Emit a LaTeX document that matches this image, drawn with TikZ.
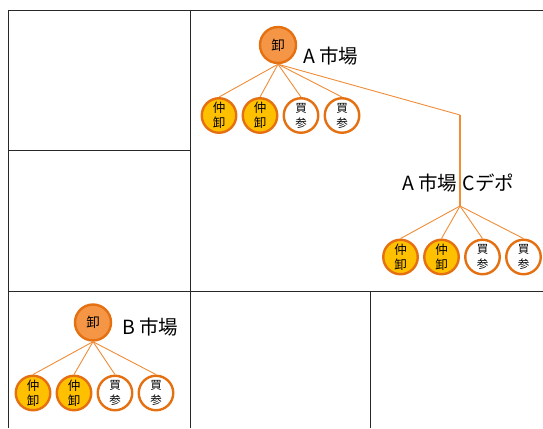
\documentclass[tikz,border=0pt]{standalone}
\usepackage{fontspec}
\setmainfont{Noto Sans CJK JP}
\definecolor{orfill}{RGB}{245,150,70}
\definecolor{ordraw}{RGB}{228,112,18}
\definecolor{goldfill}{RGB}{255,192,0}
\definecolor{orline}{RGB}{240,140,55}
\definecolor{gridc}{RGB}{40,40,40}
\tikzset{
  gridline/.style={draw=gridc,line width=0.9pt},
  rootnode/.style={circle,draw=ordraw,fill=orfill,line width=2.4pt,minimum size=36pt,inner sep=0pt,font=\fontsize{13.5}{14}\selectfont},
  nakanode/.style={circle,draw=ordraw,fill=goldfill,line width=2.4pt,minimum size=34.5pt,inner sep=0pt,align=center,font=\fontsize{12.5}{15}\selectfont},
  kainode/.style={circle,draw=ordraw,fill=white,line width=2.4pt,minimum size=34.5pt,inner sep=0pt,align=center,font=\fontsize{11.5}{15}\selectfont},
  edge/.style={draw=orline,line width=0.9pt},
  thickedge/.style={draw=orline,line width=2pt},
  lbl/.style={font=\fontsize{19.5}{21}\selectfont,inner sep=0pt}
}
\begin{document}
\begin{tikzpicture}[x=1pt,y=-1pt]
\useasboundingbox (0,0) rectangle (543,428);
% grid
\draw[gridline] (8,10.5) -- (543,10.5);
\draw[gridline] (8,10) -- (8,428);
\draw[gridline] (190,10) -- (190,428);
\draw[gridline] (8,150.5) -- (190,150.5);
\draw[gridline] (8,291) -- (543,291);
\draw[gridline] (370,291) -- (370,428);
% A market
\node[rootnode] (ra) at (278,45) {卸};
\node[lbl,anchor=west] (la) at (303,56) {A 市場};
\node[nakanode] (a1) at (219,115.5) {仲\\卸};
\node[nakanode] (a2) at (260,115.5) {仲\\卸};
\node[kainode] (a3) at (301,115.5) {買\\参};
\node[kainode] (a4) at (342,115.5) {買\\参};
\foreach \c in {a1,a2,a3,a4} \draw[edge] (ra.south) -- (\c.north);
% depot
\coordinate (bend) at (460,115);
\coordinate (depot) at (460,206);
\node[lbl,anchor=east] (ld1) at (457.5,183) {A 市場};
\node[lbl,anchor=west] (ld2) at (462.5,183) {Cデポ};
\draw[edge] (ra.south) -- (bend);
\draw[thickedge] (bend) -- (depot);
\node[nakanode] (c1) at (400.5,257) {仲\\卸};
\node[nakanode] (c2) at (441.5,257) {仲\\卸};
\node[kainode] (c3) at (482.5,257) {買\\参};
\node[kainode] (c4) at (523.5,257) {買\\参};
\foreach \c in {c1,c2,c3,c4} \draw[edge] (depot) -- (\c.north);
% B market
\node[rootnode] (rb) at (93,322.5) {卸};
\node[lbl,anchor=west] (lb) at (122,327) {B 市場};
\node[nakanode] (b1) at (33,393) {仲\\卸};
\node[nakanode] (b2) at (74,393) {仲\\卸};
\node[kainode] (b3) at (115,393) {買\\参};
\node[kainode] (b4) at (156,393) {買\\参};
\foreach \c in {b1,b2,b3,b4} \draw[edge] (rb.south) -- (\c.north);
\end{tikzpicture}
\end{document}
